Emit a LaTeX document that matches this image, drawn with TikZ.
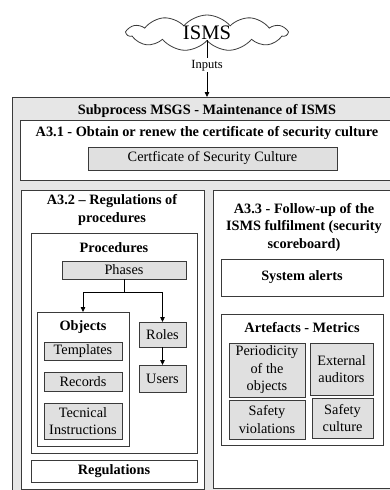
\documentclass[tikz,border=0pt]{standalone}
\usepackage{fontspec}
\setmainfont{Liberation Serif}
\usetikzlibrary{arrows.meta, shapes.symbols}

\definecolor{linec}{HTML}{3A3A3A}
\definecolor{outergray}{HTML}{E6E6E6}
\definecolor{itemgray}{HTML}{E0E0E0}

\begin{document}
\begin{tikzpicture}[%
        x = 1pt,
        y = -1pt,
        > = {Triangle[length = 5pt, width = 4.5pt]},
        line width = 0.8pt,
        every node/.style = {inner sep = 0pt, outer sep = 0pt},
        boxwhite/.style = {draw = linec, fill = white, rectangle},
        boxgray/.style = {draw = linec, fill = itemgray, rectangle, align = center,
            font = \fontsize{14.3}{17.5}\selectfont},
        boxtitle/.style = {font = \bfseries\fontsize{14.3}{17.5}\selectfont, align = center}
    ]

        % Frame of the page.
        \useasboundingbox (0, 0) rectangle (390, 490);
        \clip (0, 0) rectangle (390, 490);

        % Cloud on top.
        \node[%
            cloud,
            cloud puffs = 11,
            cloud puff arc = 100,
            cloud ignores aspect,
            draw = linec,
            fill = white,
            minimum width = 160pt,
            minimum height = 36pt,
            font = \fontsize{20.6}{22}\selectfont
        ] (isms) at (207, 33) {ISMS};

        % Outer grey box, runs past the right edge.
        \node[boxwhite, fill = outergray, minimum width = 418pt, minimum height = 423pt]
            (msgs) at (221, 308.5) {};
        \node[boxtitle] (msgstitle) at (207, 111) {Subprocess MSGS - Maintenance of ISMS};

        % Inputs.
        \draw[->] (isms.south -| 207, 0) -- node[%
                pos = 0.44,
                fill = white,
                inner sep = 1.5pt,
                font = \fontsize{12.5}{14}\selectfont
            ] (inputs) {Inputs} (207, 0 |- msgs.north);

        % A3.1.
        \node[boxwhite, minimum width = 400pt, minimum height = 60pt] (a31) at (220, 150) {};
        \node[boxtitle] (a31title) at (207, 133)
            {A3.1 - Obtain or renew the certificate of security culture};
        \node[boxgray, minimum width = 249pt, minimum height = 23pt] (cert) at (212.5, 158.5)
            {Certficate of Security Culture};

        % A3.2.
        \node[boxwhite, minimum width = 183pt, minimum height = 299pt] (a32) at (112.5, 339.5) {};
        \node[boxtitle] (a32title) at (112, 210) {A3.2 -- Regulations of\\procedures};

        \node[boxwhite, minimum width = 166pt, minimum height = 220pt] (proc) at (114, 343) {};
        \node[boxtitle] (proctitle) at (114, 248) {Procedures};
        \node[boxgray, minimum width = 124pt, minimum height = 18pt] (phases) at (124, 270) {Phases};

        \node[boxwhite, minimum width = 92pt, minimum height = 134pt] (objects) at (83, 379) {};
        \node[boxtitle] (objtitle) at (83, 327) {Objects};
        \node[boxgray, minimum width = 78pt, minimum height = 18pt] (templates) at (83, 351) {Templates};
        \node[boxgray, minimum width = 78pt, minimum height = 19pt] (records) at (83, 381.5) {Records};
        \node[boxgray, minimum width = 78pt, minimum height = 36pt] (tecnical) at (83, 421)
            {Tecnical\\Instructions};

        \node[boxgray, minimum width = 47pt, minimum height = 25pt] (roles) at (162.5, 334.5) {Roles};
        \node[boxgray, minimum width = 47pt, minimum height = 27pt] (users) at (162.5, 378.5) {Users};

        \node[boxwhite, boxtitle, minimum width = 166pt, minimum height = 22pt] (regulations)
            at (114, 471) {Regulations};

        % Arrows between procedures.
        \coordinate (split) at (124, 292);
        \draw (phases.south) -- (split);
        \draw[->] (split) -| (objects.north);
        \draw[->] (split) -| (roles.north);
        \draw[->] (roles.south) -- (users.north);

        % A3.3, also runs past the right edge.
        \node[boxwhite, minimum width = 207pt, minimum height = 298pt] (a33) at (316.5, 339) {};
        \node[boxtitle] (a33title) at (304, 227)
            {A3.3 - Follow-up of the\\ISMS fulfilment (security\\scoreboard)};
        \node[boxwhite, boxtitle, minimum width = 162pt, minimum height = 37pt] (alerts)
            at (302, 277.5) {System alerts};

        \node[boxwhite, minimum width = 162pt, minimum height = 131pt] (artefacts) at (302, 379.5) {};
        \node[boxtitle] (arttitle) at (302, 328) {Artefacts - Metrics};
        \node[boxgray, minimum width = 76pt, minimum height = 54pt] (periodicity) at (267, 370)
            {Periodicity\\of the\\objects};
        \node[boxgray, minimum width = 63pt, minimum height = 52pt] (external) at (341.5, 369)
            {External\\auditors};
        \node[boxgray, minimum width = 76pt, minimum height = 39pt] (violations) at (267, 419.5)
            {Safety\\violations};
        \node[boxgray, minimum width = 61pt, minimum height = 40pt] (culture) at (342.5, 418)
            {Safety\\culture};
    \end{tikzpicture}
\end{document}
